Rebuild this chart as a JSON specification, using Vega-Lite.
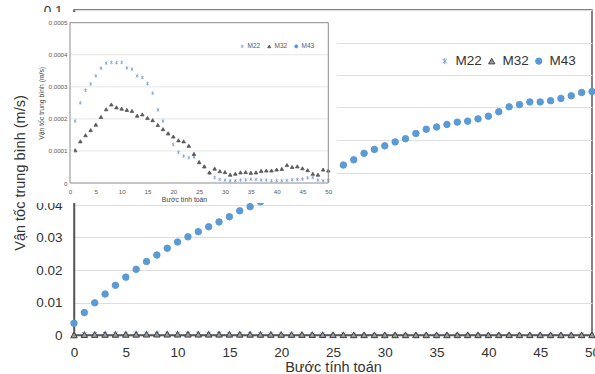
{
  "$schema": "https://vega.github.io/schema/vega-lite/v6.json",
  "padding": {"left": 12, "top": 3, "right": 0, "bottom": 0},
  "autosize": {"type": "pad"},
  "background": "white",
  "width": 518,
  "height": 325,
  "config": {
    "font": "Liberation Sans",
    "view": {"stroke": "#595959", "strokeWidth": 1.5},
    "axis": {"labelFont": "Liberation Sans", "titleFont": "Liberation Sans"},
    "legend": {"labelFont": "Liberation Sans"}
  },
  "datasets": {
    "d": [
      {"step": 0, "M22": 0, "M32": 0, "M43": 0.0036},
      {"step": 1, "M22": 0.000193, "M32": 0.000102, "M43": 0.0069},
      {"step": 2, "M22": 0.00025, "M32": 0.00013, "M43": 0.0099},
      {"step": 3, "M22": 0.000289, "M32": 0.000149, "M43": 0.0126},
      {"step": 4, "M22": 0.000309, "M32": 0.000165, "M43": 0.0153},
      {"step": 5, "M22": 0.000334, "M32": 0.000182, "M43": 0.0178},
      {"step": 6, "M22": 0.000358, "M32": 0.000206, "M43": 0.0202},
      {"step": 7, "M22": 0.000374, "M32": 0.00023, "M43": 0.0226},
      {"step": 8, "M22": 0.000376, "M32": 0.000245, "M43": 0.0246},
      {"step": 9, "M22": 0.000375, "M32": 0.000236, "M43": 0.0267},
      {"step": 10, "M22": 0.000376, "M32": 0.000232, "M43": 0.0286},
      {"step": 11, "M22": 0.000359, "M32": 0.000228, "M43": 0.0302},
      {"step": 12, "M22": 0.000355, "M32": 0.000225, "M43": 0.0318},
      {"step": 13, "M22": 0.000334, "M32": 0.00021, "M43": 0.0333},
      {"step": 14, "M22": 0.000329, "M32": 0.000214, "M43": 0.0348},
      {"step": 15, "M22": 0.00031, "M32": 0.000203, "M43": 0.0364},
      {"step": 16, "M22": 0.00028, "M32": 0.000196, "M43": 0.0382},
      {"step": 17, "M22": 0.000228, "M32": 0.000181, "M43": 0.0395},
      {"step": 18, "M22": 0.000193, "M32": 0.000168, "M43": 0.041},
      {"step": 19, "M22": 0.000153, "M32": 0.000155, "M43": 0.0425},
      {"step": 20, "M22": 0.00012, "M32": 0.000145, "M43": 0.044},
      {"step": 21, "M22": 0.000096, "M32": 0.000133, "M43": 0.0455},
      {"step": 22, "M22": 0.000084, "M32": 0.00013, "M43": 0.047},
      {"step": 23, "M22": 0.000079, "M32": 0.000116, "M43": 0.0484},
      {"step": 24, "M22": 0.000081, "M32": 0.000091, "M43": 0.0497},
      {"step": 25, "M22": 0.000065, "M32": 0.000065, "M43": 0.051},
      {"step": 26, "M22": 0.00005, "M32": 0.000052, "M43": 0.0523},
      {"step": 27, "M22": 0.000031, "M32": 0.000033, "M43": 0.0539},
      {"step": 28, "M22": 0.000017, "M32": 0.000045, "M43": 0.0559},
      {"step": 29, "M22": 0.000011, "M32": 0.000037, "M43": 0.0571},
      {"step": 30, "M22": 0.000009, "M32": 0.000034, "M43": 0.0582},
      {"step": 31, "M22": 0.000007, "M32": 0.000026, "M43": 0.0594},
      {"step": 32, "M22": 0.000007, "M32": 0.000029, "M43": 0.0604},
      {"step": 33, "M22": 0.000009, "M32": 0.000033, "M43": 0.062},
      {"step": 34, "M22": 0.00001, "M32": 0.000034, "M43": 0.0633},
      {"step": 35, "M22": 0.000012, "M32": 0.000032, "M43": 0.064},
      {"step": 36, "M22": 0.000011, "M32": 0.000033, "M43": 0.0648},
      {"step": 37, "M22": 0.000009, "M32": 0.000038, "M43": 0.0655},
      {"step": 38, "M22": 0.000009, "M32": 0.000039, "M43": 0.0658},
      {"step": 39, "M22": 0.000007, "M32": 0.000039, "M43": 0.0665},
      {"step": 40, "M22": 0.000007, "M32": 0.000042, "M43": 0.0673},
      {"step": 41, "M22": 0.000007, "M32": 0.000044, "M43": 0.0687},
      {"step": 42, "M22": 0.000008, "M32": 0.000056, "M43": 0.0702},
      {"step": 43, "M22": 0.00001, "M32": 0.00005, "M43": 0.0709},
      {"step": 44, "M22": 0.000011, "M32": 0.000052, "M43": 0.0717},
      {"step": 45, "M22": 0.000012, "M32": 0.000046, "M43": 0.0717},
      {"step": 46, "M22": 0.000016, "M32": 0.00004, "M43": 0.0721},
      {"step": 47, "M22": 0.000017, "M32": 0.000029, "M43": 0.0728},
      {"step": 48, "M22": 0.000009, "M32": 0.000026, "M43": 0.0736},
      {"step": 49, "M22": 0.000007, "M32": 0.000042, "M43": 0.0746},
      {"step": 50, "M22": 0.000008, "M32": 0.000039, "M43": 0.0749}
    ]
  },
  "resolve": {
    "scale": {"x": "independent", "y": "independent", "shape": "independent", "fill": "independent", "stroke": "independent"},
    "axis": {"x": "independent", "y": "independent"},
    "legend": {"shape": "independent", "fill": "independent", "stroke": "independent"}
  },
  "layer": [
    {
      "data": {"name": "d"},
      "transform": [{"fold": ["M22", "M32", "M43"], "as": ["series", "v"]}],
      "mark": {"type": "point", "filled": true, "size": 42, "strokeWidth": 1, "opacity": 1, "clip": false},
      "encoding": {
        "x": {
          "field": "step", "type": "quantitative",
          "scale": {"domain": [0, 50], "nice": false},
          "axis": {
            "orient": "bottom",
            "values": [0, 5, 10, 15, 20, 25, 30, 35, 40, 45, 50],
            "ticks": false, "grid": false, "labelFontSize": 13.5, "labelColor": "#333333",
            "labelPadding": 10, "labelFlush": false, "domainColor": "#595959", "domainWidth": 1.5,
            "title": "Bước tính toán", "titleFontSize": 14.5, "titleFontWeight": "normal",
            "titleColor": "#333333", "titlePadding": 2
          }
        },
        "y": {
          "field": "v", "type": "quantitative",
          "scale": {"domain": [0, 0.1], "nice": false},
          "axis": {
            "orient": "left",
            "values": [0, 0.01, 0.02, 0.03, 0.04, 0.05, 0.06, 0.07, 0.08, 0.09, 0.1],
            "format": ".2~f", "ticks": false, "labelFontSize": 13.5, "labelColor": "#333333",
            "labelPadding": 12, "gridColor": "#dedede", "gridWidth": 1,
            "domainColor": "#595959", "domainWidth": 1.5,
            "title": "Vận tốc trung bình (m/s)", "titleFontSize": 14.5, "titleFontWeight": "normal",
            "titleColor": "#333333", "titlePadding": 8
          }
        },
        "shape": {
          "field": "series", "type": "nominal",
          "scale": {"domain": ["M22", "M32", "M43"], "range": ["M-0.7,-0.7L0.7,0.7M-0.7,0.7L0.7,-0.7M0,-1L0,1", "triangle-up", "circle"]},
          "legend": {"orient": "none", "legendX": 364, "legendY": 44, "direction": "horizontal", "title": null, "labelFontSize": 13.5, "labelColor": "#333333", "symbolSize": 40, "columnPadding": 3, "labelOffset": 4, "symbolStrokeWidth": 1}
        },
        "fill": {
          "field": "series", "type": "nominal",
          "scale": {"domain": ["M22", "M32", "M43"], "range": ["transparent", "#9a9a9a", "#5B9BD5"]},
          "legend": {"orient": "none", "legendX": 364, "legendY": 44, "direction": "horizontal", "title": null, "labelFontSize": 13.5, "labelColor": "#333333", "symbolSize": 40, "columnPadding": 3, "labelOffset": 4, "symbolStrokeWidth": 1}
        },
        "stroke": {
          "field": "series", "type": "nominal",
          "scale": {"domain": ["M22", "M32", "M43"], "range": ["#7f9fd9", "#404040", "#5B9BD5"]},
          "legend": {"orient": "none", "legendX": 364, "legendY": 44, "direction": "horizontal", "title": null, "labelFontSize": 13.5, "labelColor": "#333333", "symbolSize": 40, "columnPadding": 3, "labelOffset": 4, "symbolStrokeWidth": 1}
        }
      }
    },
    {
      "layer": [
        {
          "data": {"values": [{}]},
          "mark": {"type": "rect", "fill": "white", "clip": false},
          "encoding": {
            "x": {"datum": -6.78, "type": "quantitative"},
            "x2": {"datum": 51.68},
            "y": {"datum": 0.000533, "type": "quantitative"},
            "y2": {"datum": -0.0000624}
          }
        },
        {
          "data": {"values": [{}]},
          "mark": {"type": "rule", "stroke": "#e6e6e6", "strokeWidth": 1},
          "encoding": {"x": {"datum": 0, "type": "quantitative"}, "x2": {"datum": 50}, "y": {"datum": 0.0001, "type": "quantitative"}}
        },
        {
          "data": {"values": [{}]},
          "mark": {"type": "rule", "stroke": "#e6e6e6", "strokeWidth": 1},
          "encoding": {"x": {"datum": 0, "type": "quantitative"}, "x2": {"datum": 50}, "y": {"datum": 0.0002, "type": "quantitative"}}
        },
        {
          "data": {"values": [{}]},
          "mark": {"type": "rule", "stroke": "#e6e6e6", "strokeWidth": 1},
          "encoding": {"x": {"datum": 0, "type": "quantitative"}, "x2": {"datum": 50}, "y": {"datum": 0.0003, "type": "quantitative"}}
        },
        {
          "data": {"values": [{}]},
          "mark": {"type": "rule", "stroke": "#e6e6e6", "strokeWidth": 1},
          "encoding": {"x": {"datum": 0, "type": "quantitative"}, "x2": {"datum": 50}, "y": {"datum": 0.0004, "type": "quantitative"}}
        },
        {
          "data": {"name": "d"},
          "transform": [{"fold": ["M22", "M32", "M43"], "as": ["series", "v"]}],
          "mark": {"type": "point", "filled": true, "size": 13, "strokeWidth": 0.8, "opacity": 1, "clip": true},
          "encoding": {
            "x": {
              "field": "step", "type": "quantitative",
              "scale": {"domain": [0, 50], "nice": false, "range": [-4, 254.3]},
              "axis": {
                "orient": "bottom", "offset": -152,
                "values": [0, 5, 10, 15, 20, 25, 30, 35, 40, 45, 50], "zindex": 1,
                "ticks": false, "grid": false, "domain": false, "labelFontSize": 6.2, "labelColor": "#595959",
                "labelPadding": 5, "labelFlush": false,
                "title": "Bước tính toán", "titleFontSize": 6.8, "titleFontWeight": "normal",
                "titleColor": "#404040", "titlePadding": 2, "titleX": 110
              }
            },
            "y": {
              "field": "v", "type": "quantitative",
              "scale": {"domain": [0, 0.0005], "nice": false, "range": [173, 12.7]},
              "axis": {
                "orient": "left", "offset": 4,
                "values": [0, 0.0001, 0.0002, 0.0003, 0.0004, 0.0005], "zindex": 1,
                "format": ".4~f", "ticks": false, "grid": false, "domain": false, "labelFontSize": 6.2, "labelColor": "#595959",
                "labelPadding": 3,
                "title": "Vận tốc trung bình (m/s)", "titleFontSize": 6.8, "titleFontWeight": "normal",
                "titleColor": "#404040", "titlePadding": 4
              }
            },
            "shape": {
              "field": "series", "type": "nominal",
              "scale": {"domain": ["M22", "M32", "M43"], "range": ["M-0.7,-0.7L0.7,0.7M-0.7,0.7L0.7,-0.7M0,-1L0,1", "triangle-up", "circle"]},
              "legend": {"orient": "none", "legendX": 165, "legendY": 33, "direction": "horizontal", "title": null, "labelFontSize": 6.5, "labelColor": "#595959", "symbolSize": 10, "columnPadding": 5, "labelOffset": 2, "symbolStrokeWidth": 0.8}
            },
            "fill": {
              "field": "series", "type": "nominal",
              "scale": {"domain": ["M22", "M32", "M43"], "range": ["#c5d5f0", "#595959", "#5B9BD5"]},
              "legend": {"orient": "none", "legendX": 165, "legendY": 33, "direction": "horizontal", "title": null, "labelFontSize": 6.5, "labelColor": "#595959", "symbolSize": 10, "columnPadding": 5, "labelOffset": 2, "symbolStrokeWidth": 0.8}
            },
            "stroke": {
              "field": "series", "type": "nominal",
              "scale": {"domain": ["M22", "M32", "M43"], "range": ["#7f9fd9", "#595959", "#5B9BD5"]},
              "legend": {"orient": "none", "legendX": 165, "legendY": 33, "direction": "horizontal", "title": null, "labelFontSize": 6.5, "labelColor": "#595959", "symbolSize": 10, "columnPadding": 5, "labelOffset": 2, "symbolStrokeWidth": 0.8}
            }
          }
        },
        {
          "data": {"values": [{}]},
          "mark": {"type": "rect", "fill": null, "stroke": "#8c8c8c", "strokeWidth": 1, "clip": false},
          "encoding": {
            "x": {"datum": 0, "type": "quantitative"},
            "x2": {"datum": 50},
            "y": {"datum": 0.0005, "type": "quantitative"},
            "y2": {"datum": 0}
          }
        }
      ]
    }
  ]
}
